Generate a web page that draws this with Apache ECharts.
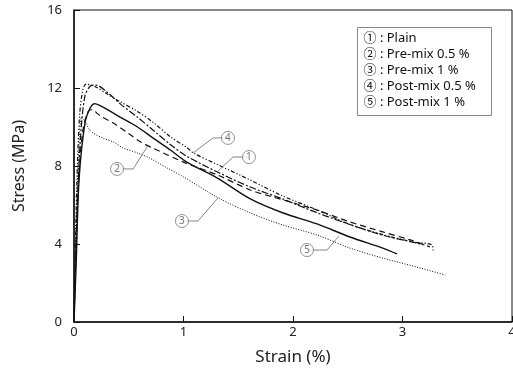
<!DOCTYPE html>
<html>
<head>
<meta charset="utf-8">
<script src="https://cdn.jsdelivr.net/npm/echarts@6/dist/echarts.min.js"></script>
<style>
  html, body { margin: 0; padding: 0; background: #fff; }
  #chart { width: 513px; height: 368px; }
</style>
</head>
<body>
<div id="chart"></div>
<script>
// Stress–strain curves, [strain %, stress MPa]
const plain = [[0,0],[0.01,2.5],[0.03,6],[0.06,9.5],[0.1,11.6],[0.15,12.1],[0.2,12.15],[0.3,11.8],[0.42,11.2],[0.58,10.5],[0.72,9.85],[0.88,9.1],[1.03,8.5],[1.31,7.69],[1.61,6.92],[1.91,6.3],[2.22,5.6],[2.52,5.0],[2.82,4.45],[3.05,4.15],[3.2,3.95]];
const preMix05 = [[0,0],[0.015,3],[0.04,7],[0.08,9.8],[0.13,10.8],[0.17,10.9],[0.21,10.7],[0.26,10.5],[0.36,10.2],[0.49,9.7],[0.61,9.23],[0.72,8.92],[1.0,8.2],[1.31,7.54],[1.61,6.77],[1.91,6.26],[2.22,5.74],[2.52,5.13],[2.82,4.62],[3.07,4.21],[3.25,3.85]];
const preMix1 = [[0,0],[0.01,3],[0.03,7],[0.05,9.6],[0.07,10.5],[0.1,10.3],[0.15,9.8],[0.26,9.44],[0.36,9.23],[0.45,8.92],[0.58,8.67],[0.69,8.41],[0.85,7.9],[1.0,7.44],[1.32,6.36],[1.61,5.59],[1.91,4.97],[2.22,4.46],[2.52,3.79],[2.82,3.28],[3.13,2.82],[3.39,2.41]];
const postMix05 = [[0,0],[0.01,3],[0.025,7],[0.05,10.5],[0.08,11.9],[0.11,12.2],[0.2,12.05],[0.3,11.7],[0.42,11.3],[0.58,10.8],[0.72,10.25],[0.88,9.5],[1.03,8.95],[1.09,8.67],[1.3,8.1],[1.61,7.28],[1.91,6.45],[2.22,5.75],[2.52,5.0],[2.82,4.48],[3.1,4.1],[3.27,3.95],[3.28,3.6]];
const postMix1 = [[0,0],[0.02,3],[0.046,7.28],[0.1,10.2],[0.15,11.0],[0.19,11.2],[0.26,11.03],[0.42,10.51],[0.58,10.0],[0.72,9.44],[0.88,8.82],[1.03,8.2],[1.31,7.38],[1.61,6.31],[1.91,5.59],[2.22,5.03],[2.52,4.36],[2.82,3.79],[2.95,3.49]];

const seriesNames = ['Plain', 'Pre-mix 0.5 %', 'Pre-mix 1 %', 'Post-mix 0.5 %', 'Post-mix 1 %'];
const markDigits = ['1', '2', '3', '4', '5'];
const markGlyphs = ['①', '②', '③', '④', '⑤'];
const curves = [plain, preMix05, preMix1, postMix05, postMix1];

// Callout leaders: [point on curve, elbow, circle centre] in data units
const callouts = [
  [[1.306, 7.69], [1.452, 8.46], [1.598, 8.46]],
  [[0.676, 9.05], [0.54, 7.85], [0.393, 7.85]],
  [[1.315, 6.36], [1.132, 5.18], [0.986, 5.18]],
  [[1.087, 8.67], [1.27, 9.44], [1.406, 9.44]],
  [[2.42, 4.41], [2.311, 3.69], [2.128, 3.69]]
];

const xTicks = [0, 1, 2, 3, 4];
const yTicks = [0, 4, 8, 12, 16];

const FONT = '"Noto Sans", "Noto Sans CJK KR", sans-serif';
const dashStyles = [
  [7, 2, 2, 2],
  [6, 4],
  [1, 1.6],
  [4, 2, 1.2, 2, 1.2, 2],
  'solid'
];
const widths = [1.2, 1.2, 1.0, 1.2, 1.4];

const series = [];
curves.forEach((c, i) => {
  series.push({
    name: seriesNames[i],
    type: 'line',
    data: c,
    showSymbol: false,
    smooth: 0.3,
    z: 3,
    lineStyle: { color: '#111', width: widths[i], type: dashStyles[i] },
    silent: true
  });
});
callouts.forEach((c, i) => {
  series.push({
    type: 'line',
    data: c,
    showSymbol: false,
    z: 4,
    lineStyle: { color: '#777', width: 0.9 },
    silent: true
  });
  series.push({
    type: 'scatter',
    data: [c[2]],
    symbol: 'circle',
    symbolSize: 13,
    z: 5,
    itemStyle: { color: '#fff', borderColor: '#777', borderWidth: 1 },
    label: {
      show: true, position: 'inside', formatter: markDigits[i],
      color: '#555', fontSize: 10, fontFamily: FONT
    },
    silent: true
  });
});

const legendTexts = seriesNames.map((n, i) => ({
  type: 'text',
  left: 6,
  top: 4 + i * 16,
  style: { text: markGlyphs[i] + ' : ' + n, fill: '#111', font: '13px ' + FONT }
}));

const chart = echarts.init(document.getElementById('chart'), null, { renderer: 'canvas' });
chart.setOption({
  animation: false,
  backgroundColor: '#fff',
  grid: {
    left: 74, right: 1, top: 10, bottom: 46,
    outerBoundsMode: 'none',
    containLabel: false,
    show: true, borderColor: '#111', borderWidth: 1
  },
  xAxis: {
    type: 'value', min: 0, max: 4, interval: 1,
    name: 'Strain (%)', nameLocation: 'middle', nameGap: 27,
    nameTextStyle: { fontFamily: FONT, fontSize: 17, color: '#222' },
    axisLine: { lineStyle: { color: '#111', width: 1.5 } },
    axisTick: { inside: true, length: 6, lineStyle: { color: '#111' } },
    axisLabel: {
      fontFamily: FONT, fontSize: 13, color: '#222', margin: 4,
      hideOverlap: false, showMaxLabel: true,
      formatter: v => xTicks.includes(v) ? String(v) : ''
    },
    splitLine: { show: false }
  },
  yAxis: {
    type: 'value', min: 0, max: 16, interval: 4,
    name: 'Stress (MPa)', nameLocation: 'middle', nameGap: 47,
    nameTextStyle: { fontFamily: FONT, fontSize: 16, color: '#222' },
    axisLine: { show: true, lineStyle: { color: '#111', width: 1.5 } },
    axisTick: { show: true, inside: true, length: 6, lineStyle: { color: '#111' } },
    axisLabel: {
      fontFamily: FONT, fontSize: 13, color: '#222', margin: 12,
      formatter: v => yTicks.includes(v) ? String(v) : ''
    },
    splitLine: { show: false }
  },
  graphic: [{
    type: 'group',
    left: 357,
    top: 27,
    children: [{
      type: 'rect',
      shape: { x: 0, y: 0, width: 134, height: 88 },
      style: { fill: '#fff', stroke: '#888', lineWidth: 1 }
    }].concat(legendTexts)
  }],
  series: series
});
</script>
</body>
</html>
